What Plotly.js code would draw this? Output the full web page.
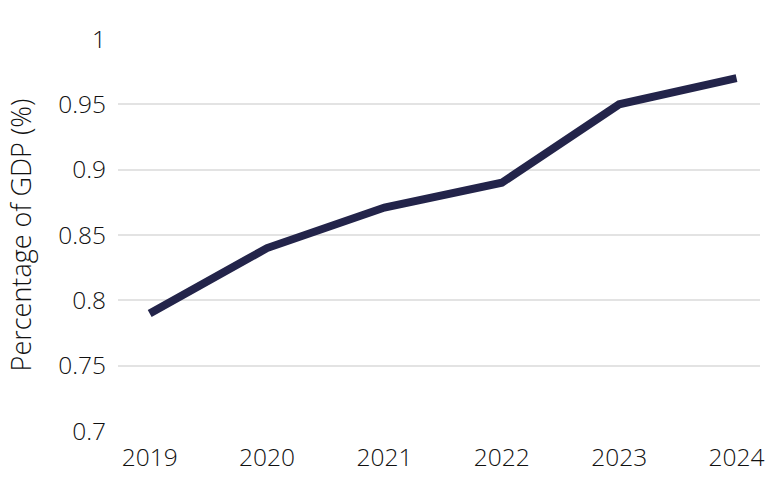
<!DOCTYPE html>
<html><head><meta charset="utf-8">
<script src="https://cdn.plot.ly/plotly-3.0.1.min.js"></script>
<style>html,body{margin:0;padding:0;background:#fff}#chart{width:770px;height:498px}</style>
</head><body><div id="chart"></div>
<script>
const years = ["2019","2020","2021","2022","2023","2024"];
const gdpShare = [0.79, 0.84, 0.871, 0.89, 0.95, 0.97];
const yTicks = [0.7, 0.75, 0.8, 0.85, 0.9, 0.95, 1];
const yTickText = ["0.7","0.75","0.8","0.85","0.9","0.95","1"];

const font = {family: "Open Sans, sans-serif", color: "#111111", weight: 300};

Plotly.newPlot("chart", [{
  x: years, y: gdpShare, type: "scatter", mode: "lines",
  line: {color: "#23244a", width: 8}, hoverinfo: "skip"
}], {
  width: 770, height: 498,
  margin: {l: 118, r: 10, t: 39, b: 67},
  paper_bgcolor: "#fff", plot_bgcolor: "#fff",
  showlegend: false,
  xaxis: {
    type: "category", range: [-0.27, 5.2],
    showgrid: false, zeroline: false, showline: false,
    tickfont: Object.assign({size: 24.5}, font), ticks: "", ticklabelstandoff: 9
  },
  yaxis: {
    range: [0.7, 1], tickvals: yTicks, ticktext: yTickText,
    showgrid: true, gridcolor: "#e3e3e3", gridwidth: 2,
    zeroline: false, showline: false, ticks: "",
    tickfont: Object.assign({size: 24.5}, font), ticklabelstandoff: 11,
    title: {text: "Percentage of GDP (%)", font: Object.assign({size: 27}, font), standoff: 18}
  }
}, {displayModeBar: false, staticPlot: true});
</script></body></html>
